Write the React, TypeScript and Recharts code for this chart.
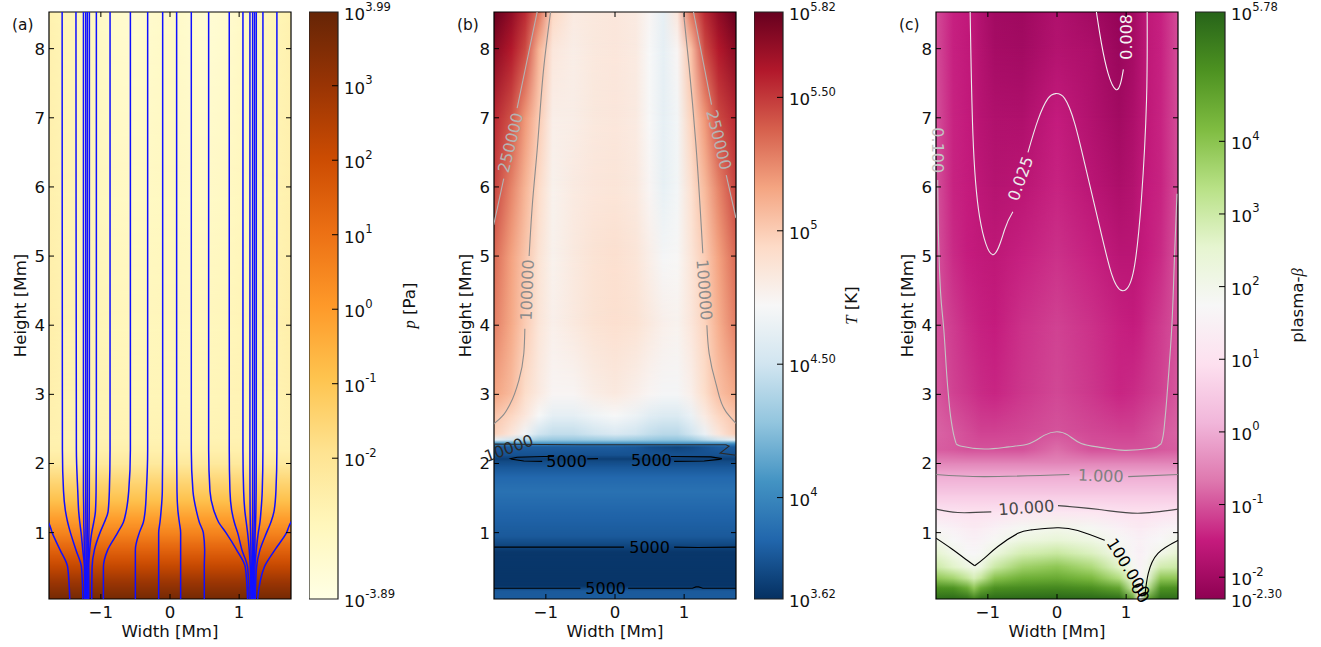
import React from "react";
import {
  ComposedChart,
  Label,
  Line,
  ReferenceArea,
  ReferenceDot,
  XAxis,
  YAxis,
} from "recharts";

// axes
const widthTicks = [-1, 0, 1];
const heightTicks = [1, 2, 3, 4, 5, 6, 7, 8];
const widthDomain = [-1.75, 1.75];
const heightDomain = [0.04, 8.53];

// colour maps (YlOrBr, RdBu_r, PiYG_r)
const ylOrBr = ["#ffffe5", "#fff7bc", "#fee391", "#fec44f", "#fe9929", "#ec7014", "#cc4c02", "#993404", "#662506"];
const rdBuR = ["#053061", "#2166ac", "#4393c3", "#92c5de", "#d1e5f0", "#f7f7f7", "#fddbc7", "#f4a582", "#d6604d", "#b2182b", "#67001f"];
const piYgR = ["#8e0152", "#c51b7d", "#de77ae", "#f1b6da", "#fde0ef", "#f7f7f7", "#e6f5d0", "#b8e186", "#7fbc41", "#4d9221", "#276419"];

// colour bar ranges and ticks, log10 units
const pressureRange = [-3.89, 3.99];
const pressureBarTicks = [3.99, 3, 2, 1, 0, -1, -2, -3.89];
const pressureBarLabels = ["3.99", "3", "2", "1", "0", "-1", "-2", "-3.89"];
const tempRange = [3.62, 5.82];
const tempBarTicks = [5.82, 5.5, 5, 4.5, 4, 3.62];
const tempBarLabels = ["5.82", "5.50", "5", "4.50", "4", "3.62"];
const betaRange = [-2.3, 5.78];
const betaBarTicks = [5.78, 4, 3, 2, 1, 0, -1, -2, -2.3];
const betaBarLabels = ["5.78", "4", "3", "2", "1", "0", "-1", "-2", "-2.30"];

// (a) log10 pressure, a single number means the same value across the row
const pressureColumns = [-1.75, -1.5, -1.2, -0.9, -0.5, 0, 0.5, 0.9, 1.2, 1.5, 1.75];
const pressureHeights = [0.04, 0.3, 0.5, 0.6, 0.8, 1.0, 1.2, 1.47, 1.76, 2.0, 2.2, 2.4, 3, 4, 6, 8.53];
const pressureRows = [
  3.7, 2.9, 2.2, 1.85, 1.2, 0.55, -0.05, -0.9, -1.55, -2.25, -2.55,
  [-2.6, -2.68, -2.68, -2.72, -2.75, -2.72, -2.75, -2.72, -2.68, -2.68, -2.6],
  [-2.55, -2.7, -2.7, -2.78, -2.85, -2.8, -2.85, -2.78, -2.7, -2.7, -2.55],
  [-2.5, -2.68, -2.72, -2.85, -2.95, -2.85, -2.95, -2.85, -2.72, -2.68, -2.5],
  [-2.55, -2.72, -2.82, -3.05, -3.15, -3.0, -3.2, -3.05, -2.85, -2.72, -2.55],
  [-2.6, -2.8, -2.95, -3.25, -3.4, -3.15, -3.5, -3.3, -2.95, -2.8, -2.6],
];

// (b) log10 temperature
const tempColumns = [-1.75, -1.5, -1.3, -1.1, -0.9, -0.6, -0.3, 0, 0.3, 0.5, 0.7, 0.9, 1.1, 1.3, 1.5, 1.75];
const tempHeights = [0.04, 0.16, 0.23, 0.72, 0.79, 0.95, 1.25, 1.6, 1.8, 1.95, 2.03, 2.07, 2.12, 2.24, 2.27, 2.3, 2.34, 2.43, 2.7, 3, 4, 5, 6, 7, 8, 8.53];
const tempRows = [
  3.8, 3.79, 3.64, 3.65, 3.7, 3.79, 3.83, 3.9, 3.85, 3.78, 3.72, 3.68, 3.76,
  [3.8, 3.8, 3.8, 3.8, 3.8, 3.8, 3.8, 3.8, 3.78, 3.74, 3.72, 3.7, 3.72, 3.76, 3.8, 3.8],
  3.92,
  4.1,
  [4.62, 4.5, 4.42, 4.32, 4.3, 4.3, 4.32, 4.34, 4.32, 4.3, 4.28, 4.28, 4.32, 4.42, 4.5, 4.62],
  [4.98, 4.85, 4.68, 4.5, 4.45, 4.45, 4.5, 4.55, 4.5, 4.45, 4.42, 4.42, 4.5, 4.65, 4.85, 5.0],
  [5.04, 4.96, 4.85, 4.72, 4.62, 4.62, 4.68, 4.72, 4.66, 4.6, 4.57, 4.57, 4.65, 4.82, 4.96, 5.04],
  [5.16, 5.07, 4.92, 4.82, 4.74, 4.74, 4.8, 4.83, 4.78, 4.74, 4.7, 4.7, 4.78, 4.92, 5.05, 5.14],
  [5.28, 5.14, 5.0, 4.86, 4.78, 4.83, 4.88, 4.9, 4.88, 4.83, 4.78, 4.76, 4.85, 4.97, 5.12, 5.28],
  [5.35, 5.17, 5.03, 4.88, 4.77, 4.83, 4.88, 4.9, 4.86, 4.79, 4.7, 4.73, 4.86, 5.0, 5.17, 5.35],
  [5.47, 5.27, 5.1, 4.93, 4.77, 4.82, 4.85, 4.86, 4.83, 4.74, 4.63, 4.69, 4.9, 5.08, 5.27, 5.47],
  [5.55, 5.42, 5.2, 5.0, 4.79, 4.8, 4.84, 4.85, 4.82, 4.72, 4.62, 4.69, 4.97, 5.2, 5.45, 5.55],
  [5.72, 5.6, 5.45, 5.1, 4.85, 4.8, 4.84, 4.85, 4.82, 4.72, 4.62, 4.74, 5.05, 5.45, 5.6, 5.72],
  [5.82, 5.7, 5.55, 5.32, 4.95, 4.82, 4.84, 4.85, 4.82, 4.74, 4.62, 4.85, 5.32, 5.55, 5.7, 5.82],
];

// (c) log10 plasma beta
const betaColumns = [-1.75, -1.5, -1.3, -1.2, -1.1, -0.9, -0.5, 0, 0.5, 0.9, 1.1, 1.2, 1.3, 1.5, 1.75];
const betaHeights = [0.04, 0.2, 0.35, 0.5, 0.7, 0.9, 1.07, 1.3, 1.55, 1.8, 2.0, 2.2, 2.45, 3, 4, 5, 6, 7, 8, 8.53];
const betaRows = [
  [5.6, 5.65, 5.55, 5.25, 5.55, 5.65, 5.7, 5.72, 5.7, 5.6, 4.6, 1.7, 4.6, 5.6, 5.6],
  [5.0, 4.95, 4.5, 3.9, 4.5, 5.0, 5.1, 5.15, 5.0, 4.6, 3.0, 1.65, 3.1, 4.95, 5.0],
  [3.9, 3.6, 3.1, 2.8, 3.1, 4.0, 4.4, 4.5, 4.2, 3.4, 2.2, 1.6, 2.2, 3.9, 3.9],
  [3.0, 2.6, 2.2, 2.05, 2.2, 3.0, 3.7, 3.95, 3.5, 2.6, 1.9, 1.55, 1.9, 2.9, 3.0],
  [2.5, 2.05, 1.75, 1.7, 1.8, 2.2, 2.85, 3.05, 2.7, 2.0, 1.65, 1.5, 1.65, 2.0, 2.5],
  [2.0, 1.75, 1.55, 1.5, 1.55, 1.8, 2.2, 2.4, 2.15, 1.8, 1.6, 1.5, 1.6, 1.75, 2.0],
  [1.65, 1.5, 1.35, 1.3, 1.35, 1.5, 1.85, 2.0, 1.85, 1.5, 1.35, 1.3, 1.35, 1.5, 1.65],
  [1.03, 1.0, 0.98, 0.98, 0.98, 1.0, 1.1, 1.15, 1.1, 1.0, 0.98, 0.97, 0.98, 1.0, 1.03],
  0.5,
  0.02,
  -0.5,
  [-0.9, -0.95, -1.0, -1.0, -1.0, -1.0, -1.0, -0.75, -1.0, -1.0, -1.0, -1.0, -1.0, -0.95, -0.9],
  [-0.85, -0.95, -1.05, -1.1, -1.15, -1.15, -1.1, -1.0, -1.1, -1.15, -1.15, -1.1, -1.05, -0.95, -0.85],
  [-0.95, -1.15, -1.25, -1.3, -1.35, -1.4, -1.25, -1.1, -1.25, -1.4, -1.35, -1.3, -1.25, -1.15, -0.95],
  [-1.0, -1.2, -1.35, -1.4, -1.45, -1.5, -1.3, -1.15, -1.3, -1.45, -1.5, -1.45, -1.35, -1.2, -1.0],
  [-1.0, -1.35, -1.48, -1.52, -1.55, -1.6, -1.45, -1.3, -1.45, -1.65, -1.65, -1.55, -1.48, -1.35, -1.0],
  [-1.0, -1.42, -1.5, -1.55, -1.62, -1.72, -1.66, -1.42, -1.65, -1.85, -1.75, -1.63, -1.52, -1.42, -1.05],
  [-1.02, -1.42, -1.52, -1.6, -1.7, -1.8, -1.82, -1.5, -1.78, -2.0, -1.85, -1.72, -1.58, -1.42, -1.05],
  [-1.05, -1.45, -1.55, -1.62, -1.75, -1.95, -2.0, -1.75, -1.85, -2.12, -1.95, -1.78, -1.6, -1.45, -1.05],
  [-1.05, -1.45, -1.55, -1.62, -1.78, -2.0, -2.05, -1.8, -2.0, -2.2, -2.0, -1.8, -1.6, -1.45, -1.05],
];

// (a) field lines: width at each of these heights, listed top to bottom
const fieldHeights = [8.53, 2.2, 1.6, 1.3, 1.15, 1.0, 0.75, 0.5, 0.04];
const fieldLines = [
  [-2.2, -2.2, -2.1, -1.9, -1.76, -1.705, -1.59, -1.48, -1.45],
  [-1.56, -1.556, -1.54, -1.51, -1.48, -1.44, -1.36, -1.28, -1.26],
  [-1.36, -1.354, -1.334, -1.32, -1.305, -1.286, -1.262, -1.238, -1.233],
  [-1.252, -1.252, -1.252, -1.248, -1.248, -1.243, -1.238, -1.228, -1.224],
  [-1.219, -1.219, -1.219, -1.218, -1.217, -1.216, -1.214, -1.212, -1.21],
  [-1.195, -1.195, -1.195, -1.196, -1.196, -1.197, -1.198, -1.2, -1.2],
  [-1.166, -1.166, -1.167, -1.168, -1.17, -1.172, -1.178, -1.186, -1.19],
  [-1.065, -1.065, -1.069, -1.079, -1.103, -1.132, -1.161, -1.175, -1.175],
  [-0.867, -0.867, -0.877, -0.896, -0.949, -1.012, -1.093, -1.127, -1.132],
  [-0.573, -0.573, -0.597, -0.636, -0.674, -0.756, -0.901, -0.963, -0.963],
  [-0.323, -0.323, -0.342, -0.361, -0.385, -0.443, -0.501, -0.501, -0.501],
  [-0.106, -0.106, -0.111, -0.13, -0.145, -0.164, -0.164, -0.164, -0.164],
  [0.096, 0.096, 0.101, 0.116, 0.135, 0.154, 0.154, 0.154, 0.154],
  [0.308, 0.308, 0.332, 0.385, 0.424, 0.482, 0.501, 0.496, 0.496],
  [0.559, 0.559, 0.578, 0.641, 0.703, 0.809, 0.963, 1.089, 1.122],
  [0.857, 0.857, 0.867, 0.896, 0.93, 0.978, 1.04, 1.122, 1.146],
  [1.055, 1.055, 1.065, 1.084, 1.103, 1.122, 1.146, 1.161, 1.171],
  [1.156, 1.156, 1.157, 1.159, 1.161, 1.165, 1.17, 1.175, 1.18],
  [1.195, 1.195, 1.195, 1.195, 1.194, 1.194, 1.193, 1.192, 1.19],
  [1.223, 1.223, 1.222, 1.22, 1.218, 1.215, 1.21, 1.205, 1.2],
  [1.248, 1.248, 1.246, 1.242, 1.238, 1.232, 1.225, 1.215, 1.21],
  [1.344, 1.344, 1.334, 1.315, 1.301, 1.277, 1.248, 1.228, 1.223],
  [1.546, 1.546, 1.532, 1.503, 1.459, 1.397, 1.301, 1.252, 1.233],
  [2.2, 2.2, 2.1, 1.9, 1.75, 1.686, 1.517, 1.363, 1.267],
];

// (b) contours as [width, height]
const t250kLeftUpper = [[-1.126, 8.53], [-1.415, 7.14]];
const t250kLeftLower = [[-1.609, 6.12], [-1.754, 5.45]];
const t250kRightUpper = [[1.135, 8.53], [1.396, 7.19]];
const t250kRightLower = [[1.609, 6.17], [1.749, 5.55]];
const t100kLeftUpper = [[-0.932, 8.53], [-1.029, 7.74], [-1.126, 6.53], [-1.198, 5.71], [-1.242, 5.0]];
const t100kLeftLower = [[-1.304, 3.95], [-1.319, 3.59], [-1.391, 3.2], [-1.512, 2.87], [-1.633, 2.68], [-1.754, 2.57]];
const t100kRightUpper = [[0.99, 8.53], [1.072, 7.74], [1.169, 6.63], [1.27, 5.04]];
const t100kRightLower = [[1.329, 4.0], [1.362, 3.59], [1.459, 3.16], [1.604, 2.75], [1.749, 2.58]];
const t10kTop = [[-1.754, 2.28], [-0.5, 2.27], [0.5, 2.27], [1.604, 2.27], [1.65, 2.25], [1.52, 2.15], [1.749, 2.12]];
const t5kLensLeftInner = [[-0.246, 2.07], [-0.401, 2.066]];
const t5kLensLeft = [[-1.053, 2.03], [-1.319, 2.036], [-1.488, 2.06], [-1.512, 2.07], [-1.415, 2.09], [-1.029, 2.1], [-0.884, 2.1]];
const t5kLensRight = [[0.855, 2.03], [1.29, 2.036], [1.507, 2.06], [1.546, 2.07], [1.386, 2.095], [0.807, 2.1]];
const t5kMidLeft = [[-1.754, 0.79], [0.13, 0.79]];
const t5kMidRight = [[0.855, 0.79], [1.2, 0.785], [1.749, 0.79]];
const t5kLowLeft = [[-1.754, 0.196], [-0.5, 0.196]];
const t5kLowRight = [[0.19, 0.196], [1.12, 0.196], [1.17, 0.215], [1.21, 0.215], [1.27, 0.196], [1.749, 0.196]];

// (c) contours as [width, height]
const b008 = [[0.57, 8.53], [0.642, 8.08], [0.74, 7.64], [0.85, 7.41], [0.92, 7.5], [0.96, 7.7]];
const b025Left = [[-1.256, 8.53], [-1.217, 6.78], [-1.12, 5.57], [-0.928, 5.02], [-0.758, 5.38], [-0.638, 5.64]];
const b025Right = [[-0.42, 6.5], [-0.275, 6.97], [-0.13, 7.28], [-0.02, 7.35], [0.11, 7.28], [0.256, 6.92], [0.4, 6.34], [0.594, 5.52], [0.787, 4.75], [0.942, 4.5], [1.1, 4.75], [1.22, 5.81], [1.295, 7.26], [1.304, 8.53]];
const b100Left = [[-1.725, 6.1], [-1.715, 5.33], [-1.676, 4.36], [-1.64, 3.97], [-1.58, 3.1], [-1.53, 2.62], [-1.49, 2.4], [-1.46, 2.29]];
const b100Floor = [[-1.46, 2.29], [-1.38, 2.25], [-1.05, 2.21], [-0.7, 2.24], [-0.396, 2.29], [-0.18, 2.41], [0, 2.46], [0.16, 2.41], [0.35, 2.29], [0.65, 2.23], [0.98, 2.19], [1.37, 2.22], [1.46, 2.25], [1.51, 2.29]];
const b100Right = [[1.735, 5.9], [1.7, 5.0], [1.66, 3.97], [1.6, 3.1], [1.56, 2.62], [1.535, 2.4], [1.51, 2.29]];
const b1Left = [[-1.75, 1.84], [-1.05, 1.81], [0.18, 1.84]];
const b1Right = [[1.03, 1.81], [1.754, 1.84]];
const b10Left = [[-1.75, 1.34], [-1.435, 1.29], [-0.95, 1.3]];
const b10Right = [[0.014, 1.39], [0.64, 1.33], [1.17, 1.28], [1.754, 1.34]];
const b100kLeft = [[-1.75, 0.92], [-1.53, 0.77], [-1.3, 0.6], [-1.19, 0.52]];
const b100kMid = [[-1.19, 0.52], [-1.05, 0.63], [-0.855, 0.8], [-0.565, 0.99], [-0.37, 1.04], [0, 1.07], [0.3, 1.03], [0.69, 0.89]];
const b100kRight = [[1.27, 0.08], [1.32, 0.41], [1.46, 0.7], [1.754, 0.89]];

const tempContours = [
  { points: t250kLeftUpper, stroke: "#b4b4b4" },
  { points: t250kLeftLower, stroke: "#b4b4b4" },
  { points: t250kRightUpper, stroke: "#b4b4b4" },
  { points: t250kRightLower, stroke: "#b4b4b4" },
  { points: t100kLeftUpper, stroke: "#8c8c8c", curve: "monotoneY" },
  { points: t100kLeftLower, stroke: "#8c8c8c", curve: "monotoneY" },
  { points: t100kRightUpper, stroke: "#8c8c8c", curve: "monotoneY" },
  { points: t100kRightLower, stroke: "#8c8c8c", curve: "monotoneY" },
  { points: t10kTop, stroke: "#2a2a2a" },
  { points: t5kLensLeftInner, stroke: "#000" },
  { points: t5kLensLeft, stroke: "#000" },
  { points: t5kLensRight, stroke: "#000" },
  { points: t5kMidLeft, stroke: "#000" },
  { points: t5kMidRight, stroke: "#000" },
  { points: t5kLowLeft, stroke: "#000" },
  { points: t5kLowRight, stroke: "#000" },
];

const betaContours = [
  { points: b008, stroke: "#f5f5f5", curve: "natural" },
  { points: b025Left, stroke: "#ececec", curve: "natural" },
  { points: b025Right, stroke: "#ececec", curve: "natural" },
  { points: b100Left, stroke: "#c4c4c4", curve: "monotoneY" },
  { points: b100Floor, stroke: "#c4c4c4", curve: "natural" },
  { points: b100Right, stroke: "#c4c4c4", curve: "monotoneY" },
  { points: b1Left, stroke: "#808080", curve: "natural" },
  { points: b1Right, stroke: "#808080" },
  { points: b10Left, stroke: "#484848", curve: "natural" },
  { points: b10Right, stroke: "#484848", curve: "natural" },
  { points: b100kLeft, stroke: "#000", curve: "natural" },
  { points: b100kMid, stroke: "#000", curve: "natural" },
  { points: b100kRight, stroke: "#000", curve: "natural" },
];

const tempLabels = [
  { text: "250000", x: -1.51, y: 6.64, angle: -76, fill: "#b4b4b4" },
  { text: "250000", x: 1.5, y: 6.68, angle: 76, fill: "#b4b4b4" },
  { text: "100000", x: -1.27, y: 4.51, angle: -88, fill: "#8c8c8c" },
  { text: "100000", x: 1.29, y: 4.51, angle: 86, fill: "#8c8c8c" },
  { text: "10000", x: -1.536, y: 2.22, angle: -20, fill: "#2a2a2a" },
  { text: "5000", x: -0.7, y: 2.035, angle: 0, fill: "#000" },
  { text: "5000", x: 0.527, y: 2.05, angle: 0, fill: "#000" },
  { text: "5000", x: 0.5, y: 0.78, angle: 0, fill: "#000" },
  { text: "5000", x: -0.135, y: 0.19, angle: 0, fill: "#000" },
];

const betaLabels = [
  { text: "0.008", x: 1.0, y: 8.17, angle: -90, fill: "#f5f5f5" },
  { text: "0.025", x: -0.527, y: 6.12, angle: -70, fill: "#ececec" },
  { text: "0.100", x: -1.735, y: 6.53, angle: 90, fill: "#c4c4c4" },
  { text: "1.000", x: 0.633, y: 1.82, angle: 2, fill: "#808080" },
  { text: "10.000", x: -0.444, y: 1.36, angle: -4, fill: "#484848" },
  { text: "100.000", x: 1.03, y: 0.49, angle: 58, fill: "#000" },
  { text: "00", x: 1.2, y: 0.13, angle: 58, fill: "#000" },
];

const PLOT_W = 242;
const PLOT_H = 587;
const TOP = 12;
const FONT = 16.6;

function colorAt(cmap: string[], range: number[], value: number) {
  const t = Math.min(1, Math.max(0, (value - range[0]) / (range[1] - range[0]))) * (cmap.length - 1);
  const i = Math.min(cmap.length - 2, Math.floor(t));
  const f = t - i;
  const parts = [1, 3, 5].map((k) => {
    const a = parseInt(cmap[i].slice(k, k + 2), 16);
    const b = parseInt(cmap[i + 1].slice(k, k + 2), 16);
    return Math.round(a + (b - a) * f);
  });
  return `rgb(${parts.join(",")})`;
}

function toPoints(pairs: number[][]) {
  return pairs.map(([x, h]) => ({ x, h }));
}

function snapRect(fill: string, mask?: string) {
  return (p: any) => {
    const top = Math.round(p.y);
    const bottom = Math.round(p.y + p.height);
    return <rect x={p.x} y={top} width={p.width} height={bottom - top} fill={fill} mask={mask} />;
  };
}

function XTick({ x, y, payload }: any) {
  const label = String(payload.value).replace("-", "\u2212");
  return (
    <g>
      <line x1={x} x2={x} y1={y} y2={y - 5} stroke="#000" />
      <line x1={x} x2={x} y1={y - PLOT_H} y2={y - PLOT_H + 5} stroke="#000" />
      <text x={x} y={y + 19} textAnchor="middle" fontSize={FONT} fill="#111">{label}</text>
    </g>
  );
}

function YTick({ x, y, payload }: any) {
  return (
    <g>
      <line x1={x} x2={x + 5} y1={y} y2={y} stroke="#000" />
      <line x1={x + PLOT_W - 5} x2={x + PLOT_W} y1={y} y2={y} stroke="#000" />
      <text x={x - 4} y={y + 6} textAnchor="end" fontSize={FONT} fill="#111">{payload.value}</text>
    </g>
  );
}

type HeatPanelProps = {
  id: string;
  left: number;
  letter: string;
  cmap: string[];
  range: number[];
  columns: number[];
  heights: number[];
  rows: (number | number[])[];
  contours?: { points: number[][]; stroke: string; curve?: string }[];
  labels?: { text: string; x: number; y: number; angle: number; fill: string }[];
  children?: React.ReactNode;
};

function HeatPanel({ id, left, letter, cmap, range, columns, heights, rows, contours = [], labels = [], children }: HeatPanelProps) {
  const span = widthDomain[1] - widthDomain[0];
  return (
    <div style={{ position: "absolute", left: left - 49, top: 0 }}>
      <ComposedChart width={49 + PLOT_W + 4} height={647} margin={{ top: TOP, right: 4, left: 0, bottom: 0 }}>
        <defs>
          <linearGradient id={`${id}-fade`} x1="0" y1="1" x2="0" y2="0">
            <stop offset="0" stopColor="#000" />
            <stop offset="1" stopColor="#fff" />
          </linearGradient>
          <mask id={`${id}-mask`} maskUnits="objectBoundingBox" maskContentUnits="objectBoundingBox" x="0" y="0" width="1" height="1">
            <rect x="0" y="0" width="1" height="1" fill={`url(#${id}-fade)`} />
          </mask>
          {rows.map((row, r) => (
            <linearGradient key={r} id={`${id}-row-${r}`} x1="0" y1="0" x2="1" y2="0">
              {columns.map((c, k) => (
                <stop
                  key={k}
                  offset={(c - widthDomain[0]) / span}
                  stopColor={colorAt(cmap, range, typeof row === "number" ? row : row[k])}
                />
              ))}
            </linearGradient>
          ))}
        </defs>
        <XAxis
          type="number"
          dataKey="x"
          domain={widthDomain}
          ticks={widthTicks}
          interval={0}
          allowDataOverflow
          height={48}
          axisLine={false}
          tickLine={false}
          tickSize={0}
          tickMargin={0}
          tick={XTick}
        >
          <Label value="Width [Mm]" position="insideBottom" offset={10} fontSize={FONT} fill="#111" />
        </XAxis>
        <YAxis
          type="number"
          dataKey="h"
          domain={heightDomain}
          ticks={heightTicks}
          interval={0}
          allowDataOverflow
          width={49}
          axisLine={false}
          tickLine={false}
          tickSize={0}
          tickMargin={0}
          tick={YTick}
        >
          <Label value="Height [Mm]" angle={-90} position="insideLeft" offset={20} style={{ textAnchor: "middle" }} fontSize={FONT} fill="#111" />
        </YAxis>
        {heights.slice(0, -1).map((h, r) => (
          <ReferenceArea
            key={`base-${r}`}
            x1={widthDomain[0]}
            x2={widthDomain[1]}
            y1={h}
            y2={heights[r + 1]}
            shape={snapRect(`url(#${id}-row-${r})`)}
          />
        ))}
        {heights.slice(0, -1).map((h, r) => (
          <ReferenceArea
            key={`blend-${r}`}
            x1={widthDomain[0]}
            x2={widthDomain[1]}
            y1={h}
            y2={heights[r + 1]}
            shape={snapRect(`url(#${id}-row-${r + 1})`, `url(#${id}-mask)`)}
          />
        ))}
        {children}
        {contours.map((c, i) => (
          <Line
            key={i}
            data={toPoints(c.points)}
            dataKey="h"
            type={(c.curve ?? "linear") as any}
            stroke={c.stroke}
            strokeWidth={1.1}
            dot={false}
            activeDot={false}
            isAnimationActive={false}
          />
        ))}
        {labels.map((l, i) => (
          <ReferenceDot
            key={i}
            x={l.x}
            y={l.y}
            r={0}
            ifOverflow="visible"
            shape={(p: any) => (
              <text
                x={p.cx}
                y={p.cy}
                transform={`rotate(${l.angle} ${p.cx} ${p.cy})`}
                textAnchor="middle"
                dominantBaseline="central"
                fontSize={16}
                fill={l.fill}
              >
                {l.text}
              </text>
            )}
          />
        ))}
        <ReferenceArea
          x1={widthDomain[0]}
          x2={widthDomain[1]}
          y1={heightDomain[0]}
          y2={heightDomain[1]}
          fill="none"
          fillOpacity={1}
          stroke="#000"
          strokeWidth={1.2}
        />
      </ComposedChart>
      <div style={{ position: "absolute", left: 12, top: 16, fontSize: 15.4, color: "#111" }}>{letter}</div>
    </div>
  );
}

type ColorBarProps = {
  id: string;
  left: number;
  width: number;
  cmap: string[];
  range: number[];
  ticks: number[];
  tickLabels: string[];
  labelOffset: number;
  label: React.ReactNode;
};

function ColorBar({ id, left, width, cmap, range, ticks, tickLabels, labelOffset, label }: ColorBarProps) {
  const BarTick = ({ x, y, payload }: any) => {
    const i = ticks.indexOf(payload.value);
    const isEdge = payload.value === range[0] || payload.value === range[1];
    return (
      <g>
        {!isEdge && <line x1={x - 6} x2={x} y1={y} y2={y} stroke="#000" />}
        <text x={x + 6} y={y + 8} fontSize={FONT} fill="#111">
          10
          <tspan dy={-9.5} fontSize={11.6}>{tickLabels[i]}</tspan>
        </text>
      </g>
    );
  };
  return (
    <div style={{ position: "absolute", left, top: 0 }}>
      <ComposedChart width={width + 100} height={647} margin={{ top: TOP, right: 0, left: 0, bottom: 48 }}>
        <defs>
          <linearGradient id={`${id}-bar`} x1="0" y1="1" x2="0" y2="0">
            {cmap.map((c, k) => (
              <stop key={k} offset={k / (cmap.length - 1)} stopColor={c} />
            ))}
          </linearGradient>
        </defs>
        <XAxis type="number" dataKey="x" domain={[0, 1]} hide />
        <YAxis
          type="number"
          orientation="right"
          domain={range}
          ticks={ticks}
          interval={0}
          width={100}
          axisLine={false}
          tickLine={false}
          tickSize={0}
          tickMargin={0}
          tick={BarTick}
        >
          <Label
            content={(p: any) => (
              <text
                transform={`translate(${p.viewBox.x + labelOffset} ${p.viewBox.y + p.viewBox.height / 2}) rotate(-90)`}
                textAnchor="middle"
                fontSize={FONT}
                fill="#111"
              >
                {label}
              </text>
            )}
          />
        </YAxis>
        <ReferenceArea
          x1={0}
          x2={1}
          y1={range[0]}
          y2={range[1]}
          fill={`url(#${id}-bar)`}
          fillOpacity={1}
          stroke="#222"
          strokeWidth={1.2}
        />
        {/* the axes need a series to resolve against, the bar itself is the area above */}
        <Line
          data={[{ x: 0, v: range[0] }, { x: 1, v: range[1] }]}
          dataKey="v"
          stroke="none"
          dot={false}
          activeDot={false}
          legendType="none"
          isAnimationActive={false}
        />
      </ComposedChart>
    </div>
  );
}

const mathStyle = { fontFamily: "'Liberation Serif'", fontStyle: "italic" as const };

export default function App() {
  return (
    <div
      style={{
        position: "absolute",
        left: 0,
        top: 0,
        width: 1321,
        height: 647,
        background: "#fff",
        overflow: "hidden",
        fontFamily: "'DejaVu Sans'",
      }}
    >
      <HeatPanel
        id="pressure"
        left={49}
        letter="(a)"
        cmap={ylOrBr}
        range={pressureRange}
        columns={pressureColumns}
        heights={pressureHeights}
        rows={pressureRows}
      >
        {fieldLines.map((xs, i) => (
          <Line
            key={`field-${i}`}
            data={xs.map((x, k) => ({ x, h: fieldHeights[k] }))}
            dataKey="h"
            type="monotoneY"
            stroke="#1010ff"
            strokeWidth={1.5}
            dot={false}
            activeDot={false}
            isAnimationActive={false}
          />
        ))}
      </HeatPanel>
      <ColorBar
        id="pressure"
        left={309}
        width={29}
        cmap={ylOrBr}
        range={pressureRange}
        ticks={pressureBarTicks}
        tickLabels={pressureBarLabels}
        labelOffset={77}
        label={
          <>
            <tspan style={mathStyle}>p</tspan> [Pa]
          </>
        }
      />
      <HeatPanel
        id="temp"
        left={494}
        letter="(b)"
        cmap={rdBuR}
        range={tempRange}
        columns={tempColumns}
        heights={tempHeights}
        rows={tempRows}
        contours={tempContours}
        labels={tempLabels}
      />
      <ColorBar
        id="temp"
        left={754}
        width={29}
        cmap={rdBuR}
        range={tempRange}
        ticks={tempBarTicks}
        tickLabels={tempBarLabels}
        labelOffset={74}
        label={
          <>
            <tspan style={mathStyle}>T</tspan> [K]
          </>
        }
      />
      <HeatPanel
        id="beta"
        left={936}
        letter="(c)"
        cmap={piYgR}
        range={betaRange}
        columns={betaColumns}
        heights={betaHeights}
        rows={betaRows}
        contours={betaContours}
        labels={betaLabels}
      />
      <ColorBar
        id="beta"
        left={1195}
        width={30}
        cmap={piYgR}
        range={betaRange}
        ticks={betaBarTicks}
        tickLabels={betaBarLabels}
        labelOffset={78}
        label={
          <>
            plasma-<tspan style={mathStyle}>β</tspan>
          </>
        }
      />
    </div>
  );
}
